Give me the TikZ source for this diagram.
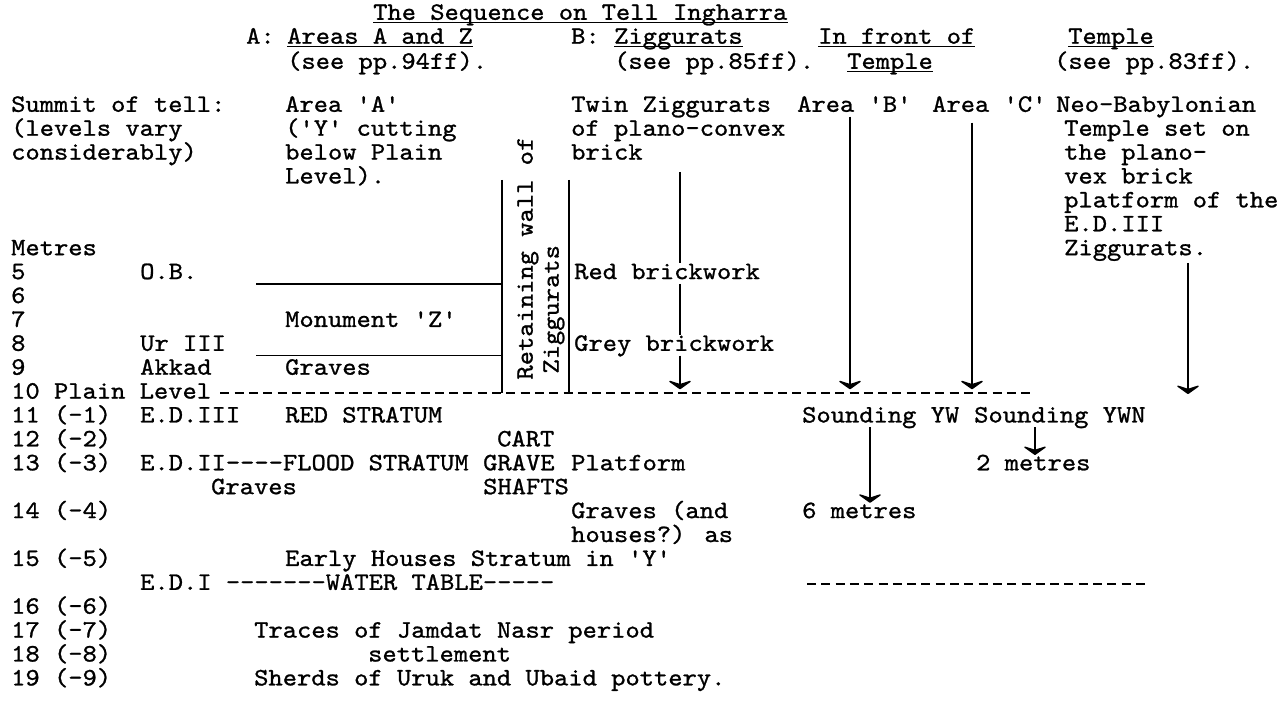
\documentclass[tikz,border=0pt]{standalone}
\usepackage{fontspec}
\usepackage{tikz}
\usetikzlibrary{arrows.meta, positioning, calc}
\newfontfamily\twfam{lmmono10-regular.otf}[FakeStretch=1.088, FakeBold=1]
\newcommand\twfont{\twfam\fontsize{25}{23.9}\selectfont}

\begin{document}
\begin{tikzpicture}[
  x=1pt, y=-23.9pt,
  tw/.style={anchor=west, inner sep=0pt, text height=16pt, text depth=4.6pt, font=\twfont},
  ul/.style={line width=1.2pt},
  rule/.style={line width=1.3pt},
  dashln/.style={line width=1.8pt, dash pattern=on 9pt off 5.3pt},
  arr/.style={-{Stealth[length=10pt, width=28pt, inset=4.5pt, round, line width=2pt]}, line width=1.2pt},
]
\useasboundingbox[fill=white] (0,-10.439) rectangle (1283,18.933);

% Headings
\node[tw] (title) at (373,-9.85) {The Sequence on Tell Ingharra};
\node[tw] (hA) at (246,-8.85) {A:};
\node[tw] (hAreas) at (287,-8.85) {Areas A and Z};
\node[tw] (hB) at (571,-8.85) {B:};
\node[tw] (hZig) at (614,-8.85) {Ziggurats};
\node[tw] (hFront) at (818,-8.85) {In front of};
\node[tw] (hTemple) at (1068,-8.85) {Temple};
\node[tw] (pA) at (287,-7.8) {(see pp.94ff).};
\node[tw] (pB) at (614,-7.8) {(see pp.85ff).};
\node[tw] (hFrontT) at (847,-7.8) {Temple};
\node[tw] (pT) at (1054,-7.8) {(see pp.83ff).};

\foreach \n in {title, hAreas, hZig, hFront, hTemple, hFrontT}
  \draw[ul] ([yshift=2pt]\n.south west) -- ([yshift=2pt]\n.south east);

% Left column: levels
\node[tw] (sum1) at (11,-6) {Summit of tell:};
\node[tw] (sum2) at (11,-5) {(levels vary};
\node[tw] (sum3) at (11,-4) {considerably)};
\node[tw] (metres) at (11,0) {Metres};
\foreach \r/\t in {1/5, 2/6, 3/7, 4/8, 5/9, 6/10 Plain Level, 7/11 (-1), 8/12 (-2), 9/13 (-3),
    11/14 (-4), 13/15 (-5), 15/16 (-6), 16/17 (-7), 17/18 (-8), 18/19 (-9)}
  \node[tw] (lv\r) at (11,\r) {\t};

% Periods
\node[tw] (ob) at (140,1) {O.B.};
\node[tw] (ur) at (140,4) {Ur III};
\node[tw] (akkad) at (140,5) {Akkad};
\node[tw] (ed3) at (140,7) {E.D.III};
\node[tw] (ed2) at (140,9) {E.D.II----FLOOD STRATUM};
\node[tw] (ed1) at (140,14) {E.D.I -------WATER TABLE-----};

% Areas A and Z
\node[tw] (areaA1) at (285,-6) {Area 'A'};
\node[tw] (areaA2) at (285,-5) {('Y' cutting};
\node[tw] (areaA3) at (285,-4) {below Plain};
\node[tw] (areaA4) at (285,-3) {Level).};
\node[tw] (monz) at (285,3) {Monument 'Z'};
\node[tw] (gravesZ) at (285,5) {Graves};
\node[tw] (redstr) at (285,7) {RED STRATUM};
\node[tw] (gravesF) at (211,10) {Graves};
\node[tw] (cart) at (497,8) {CART};
\node[tw] (grave) at (483,9) {GRAVE};
\node[tw] (shafts) at (483,10) {SHAFTS};
\node[tw] (houses) at (285,13) {Early Houses Stratum};
\node[tw] (traces) at (254,16) {Traces of Jamdat Nasr period};
\node[tw] (settle) at (368,17) {settlement};
\node[tw] (sherds) at (254,18) {Sherds of Uruk and Ubaid pottery.};

% Retaining wall
\coordinate (wlt) at (502,-2.91);
\coordinate (wlb) at (502,6);
\coordinate (wrt) at (569,-2.91);
\coordinate (wrb) at (569,6);
\draw[rule] (wlt) -- (wlb);
\draw[rule] (wrt) -- (wrb);
\node[tw, rotate=90] (wall1) at (527,5.45) {Retaining wall of};
\node[tw, rotate=90] (wall2) at (553,5.2) {Ziggurats};
\coordinate (hl1) at (256,1.45);
\coordinate (hl2) at (256,4.45);
\draw[rule] (hl1) -- (hl1 -| wlt);
\draw[rule] (hl2) -- (hl2 -| wlt);

% Ziggurats
\node[tw] (twin1) at (571,-6) {Twin Ziggurats};
\node[tw] (twin2) at (571,-5) {of plano-convex};
\node[tw] (twin3) at (571,-4) {brick};
\node[tw] (red) at (574,1) {Red brickwork};
\node[tw] (grey) at (574,4) {Grey brickwork};
\node[tw] (platf) at (571,9) {Platform};
\node[tw] (gr1) at (571,11) {Graves (and};
\node[tw] (gr2) at (571,12) {houses?) as};
\node[tw] (gr3) at (585,13) {in 'Y'};

% In front of Temple
\node[tw] (areaB) at (797,-6) {Area 'B'};
\node[tw] (areaC) at (932,-6) {Area 'C'};
\node[tw] (sndW) at (802,7) {Sounding YW};
\node[tw] (sndWN) at (974,7) {Sounding YWN};
\node[tw] (m2) at (976,9) {2 metres};
\node[tw] (m6) at (802,11) {6 metres};

% Temple
\node[tw] (neo1) at (1056,-6) {Neo-Babylonian};
\node[tw] (neo2) at (1064,-5) {Temple set on};
\node[tw] (neo3) at (1064,-4) {the plano-};
\node[tw] (neo4) at (1064,-3) {vex brick};
\node[tw] (neo5) at (1064,-2) {platform of the};
\node[tw] (neo6) at (1064,-1) {E.D.III};
\node[tw] (neo7) at (1064,0) {Ziggurats.};

% Plain level and water table
\coordinate (plainend) at (1030,6);
\draw[dashln] ([xshift=9pt]lv6.east) -- (plainend);
\coordinate (wt1) at (807,14);
\coordinate (wt2) at (1149,14);
\draw[dashln] (wt1) -- (wt2);

% Arrows
\coordinate (zigtop) at (680,-3.25);
\coordinate (zigend) at (680,5.85);
\draw[rule] (zigtop) -- (zigtop |- red.north);
\draw[rule] (zigtop |- red.south) -- (zigtop |- grey.north);
\draw[arr] (zigtop |- grey.south) -- (zigend);
\coordinate (bend) at (850,5.85);
\coordinate (cend) at (972,5.85);
\coordinate (nend) at (1188,6.05);
\coordinate (wend) at (870,10.6);
\coordinate (wnend) at (1035,8.6);
\foreach \s/\e/\d in {areaB/bend/0pt, areaC/cend/-6pt, neo7/nend/-3pt, sndW/wend/0pt, sndWN/wnend/0pt}
  \draw[arr] ([yshift=\d]\e |- \s.south) -- (\e);

\end{tikzpicture}
\end{document}
